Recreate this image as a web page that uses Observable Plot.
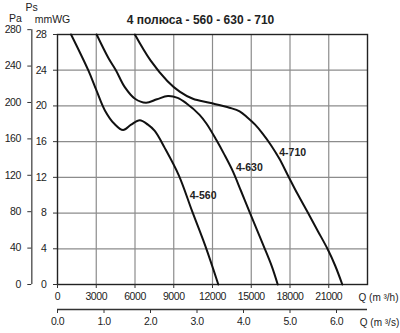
<!DOCTYPE html>
<html>
<head>
<meta charset="utf-8">
<script src="https://cdn.jsdelivr.net/npm/d3@7"></script>
<script src="https://cdn.jsdelivr.net/npm/@observablehq/plot@0.6"></script>
<style>
  body { margin: 0; background: #fff; }
  svg text { fill: #222; }
  g[aria-label$="tick label"] text { letter-spacing: -0.45px; }
  g[aria-label="curve labels"] text { letter-spacing: 0.9px; }
  g[aria-label="unit labels"] text { letter-spacing: -0.4px; }
</style>
</head>
<body>
<div id="chart"></div>
<script>
// Title and axis labels
const title = "4 полюса - 560 - 630 - 710";
const xLabelH = "Q (m ³/h)";
const xLabelS = "Q (m ³/s)";

// Tick values
const qTicks = [0, 3000, 6000, 9000, 12000, 15000, 18000, 21000];
const qsTicks = [0, 1, 2, 3, 4, 5, 6];              // m3/s
const mmTicks = [0, 4, 8, 12, 16, 20, 24, 28];      // mmWG
const paTicks = [0, 40, 80, 120, 160, 200, 240, 280]; // Pa

// Curves: flow Q (m3/h) and static pressure Ps (mmWG)
const q560 = [1050, 2380, 3000, 3670, 4400, 5080, 5700, 6370, 7000, 7530, 8300, 9400, 10400, 11450, 12450];
const p560 = [28, 24, 21.8, 19.5, 18, 17.3, 17.9, 18.4, 17.9, 17.2, 15.3, 12.2, 8.3, 4.3, 0];

const q630 = [3030, 3930, 4520, 5210, 6000, 6850, 7700, 8550, 9300, 9970, 11000, 11540, 12290, 12900, 13570, 14200, 14850, 15450, 16050, 16600, 17050];
const p630 = [28, 25.4, 24, 22.1, 20.8, 20.35, 20.75, 21.1, 20.9, 20.3, 19, 18, 16.2, 14.6, 12.7, 10.5, 8.2, 6.1, 4, 2, 0];

const q710 = [5990, 7200, 8500, 9460, 10480, 11770, 13310, 14100, 14700, 15300, 15880, 16530, 17170, 17810, 18600, 19400, 20150, 20900, 21500, 22050];
const p710 = [28, 25.1, 22.8, 21.6, 20.8, 20.35, 19.8, 19.4, 18.7, 17.9, 16.9, 15.6, 14.1, 12.3, 10.1, 8, 6, 4, 2.1, 0];

// Curve labels
const labelNames = ["4-560", "4-630", "4-710"];
const labelQ = [10230, 13810, 17170];
const labelP = [10.0, 13.1, 14.75];

const series = [
  {name: "4-560", q: q560, p: p560},
  {name: "4-630", q: q630, p: p630},
  {name: "4-710", q: q710, p: p710}
];
const rows = series.flatMap(s => s.q.map((q, i) => ({name: s.name, q, p: s.p[i]})));
const labels = labelNames.map((n, i) => ({name: n, q: labelQ[i], p: labelP[i]}));

const PA_PER_MM = 9.81;
const font = "'Liberation Sans', Arial, sans-serif";
const lbl = {textAnchor: "middle", lineAnchor: "middle", fontSize: 10.5, ariaLabel: "unit labels"};

const chart = Plot.plot({
  width: 400,
  height: 333,
  marginLeft: 57,
  marginRight: 33,
  marginTop: 34,
  marginBottom: 49,
  style: {fontFamily: font, fontSize: "11px", color: "#222", background: "#fff"},
  x: {domain: [0, 24000], label: null},
  y: {domain: [0, 28], label: null},
  marks: [
    Plot.gridX(qTicks.slice(1), {stroke: "#8c8c8c", strokeOpacity: 1, strokeWidth: 1.2}),
    Plot.gridY(mmTicks.slice(1, -1), {stroke: "#8c8c8c", strokeOpacity: 1, strokeWidth: 1.2}),
    Plot.frame({stroke: "#222", strokeWidth: 1.4}),
    // bottom axis m3/h
    Plot.axisX(qTicks, {anchor: "bottom", label: null, tickSize: 4, tickPadding: 4, tickFormat: d => String(d), stroke: "#333", fontSize: 10.5}),
    // second axis m3/s
    Plot.ruleY([0], {x1: 0, x2: 24000, dy: 25, stroke: "#333", strokeWidth: 1.3}),
    Plot.axisX(qsTicks.map(d => d * 3600), {anchor: "bottom", label: null, dy: 25, tickSize: 4, tickPadding: 4, tickFormat: d => (d / 3600).toFixed(1), stroke: "#333", fontSize: 10.5}),
    // mmWG axis
    Plot.axisY(mmTicks, {anchor: "left", label: null, tickSize: 4, tickPadding: 7, tickFormat: d => String(d), stroke: "#333", fontSize: 10.5}),
    // Pa axis
    Plot.ruleX([0], {y1: 0, y2: 280 / PA_PER_MM, dx: -25.7, stroke: "#555", strokeWidth: 1.4}),
    Plot.axisY(paTicks.map(d => d / PA_PER_MM), {anchor: "left", label: null, dx: -25.7, tickSize: 4, tickPadding: 7, tickFormat: d => String(Math.round(d * PA_PER_MM)), stroke: "#333", fontSize: 10.5}),
    // curves
    Plot.line(rows, {x: "q", y: "p", z: "name", stroke: "#111", strokeWidth: 2, curve: "catmull-rom"}),
    Plot.text(labels, {x: "q", y: "p", text: "name", textAnchor: "start", fontWeight: "bold", fontSize: 10.5, ariaLabel: "curve labels"}),
    // titles
    Plot.text([title], {...lbl, ariaLabel: "title", frameAnchor: "top", dx: -12, dy: -14, fontWeight: "bold", fontSize: 12}),
    Plot.text(["Ps"], {...lbl, frameAnchor: "top-left", dx: -26, dy: -27}),
    Plot.text(["Pa"], {...lbl, frameAnchor: "top-left", dx: -42, dy: -15.5}),
    Plot.text(["mmWG"], {...lbl, frameAnchor: "top-left", dx: -5, dy: -15}),
    Plot.text([xLabelH], {...lbl, fontSize: 10, frameAnchor: "bottom-right", dx: 11, dy: 13}),
    Plot.text([xLabelS], {...lbl, fontSize: 10, frameAnchor: "bottom-right", dx: 12, dy: 38.5})
  ]
});
document.getElementById("chart").appendChild(chart);
</script>
</body>
</html>
